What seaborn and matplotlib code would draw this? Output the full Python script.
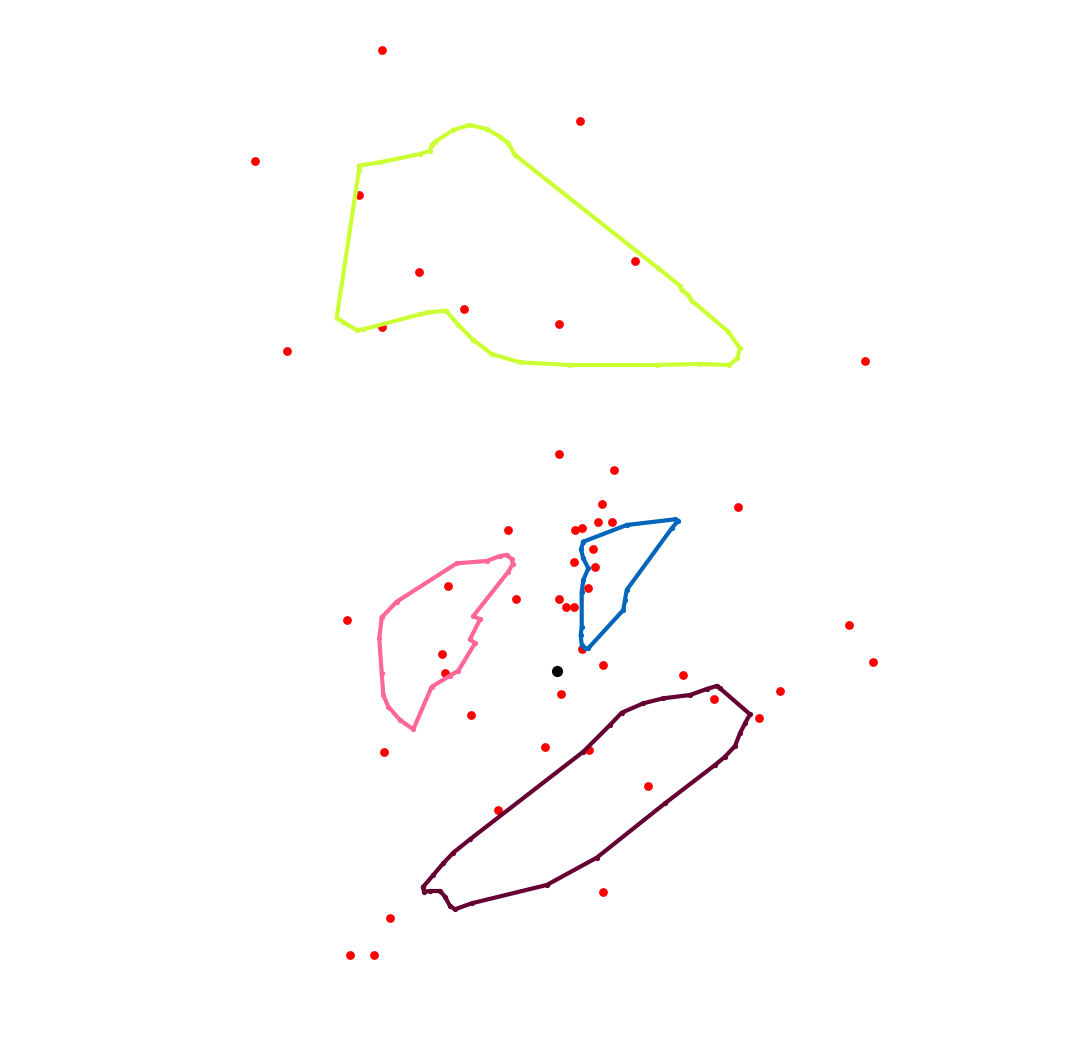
import matplotlib
matplotlib.use("Agg")
import matplotlib.pyplot as plt
import seaborn as sns
import pandas as pd

# Red points (image pixel coordinates)
red_x = [382, 580, 255, 359, 419, 635, 464, 559, 382, 287, 865, 559, 614, 602, 738,
         508, 575, 582, 598, 612, 593, 574, 595, 588, 448, 516, 559, 566, 574, 347,
         849, 873, 442, 445, 582, 603, 683, 561, 780, 714, 759, 471, 384, 545, 589,
         648, 498, 603, 390, 350, 374]
red_y = [50, 121, 161, 195, 272, 261, 309, 324, 327, 351, 361, 454, 470, 504, 507,
         530, 530, 528, 522, 522, 549, 562, 567, 588, 586, 599, 599, 607, 607, 620,
         625, 662, 654, 673, 649, 665, 675, 694, 691, 699, 718, 715, 752, 747, 750,
         786, 810, 892, 918, 955, 955]

# Black centre point
black_x = [556.7]
black_y = [670.5]

# Green polygon
green_x = [359, 380, 420, 430, 431.7, 435, 453.3, 469.3, 486.7, 500, 508.3, 515,
           658.3, 680, 681.7, 688.3, 691.7, 728.3, 740, 737.3, 729.3, 700, 656.7,
           570, 520, 491.7, 473.3, 458.3, 446, 428.3, 420, 363.3, 356.7, 343.3,
           336.7, 359, 359]
green_y = [165.7, 162.3, 154, 150.7, 145, 141.7, 130, 125, 129, 136.7, 143.3, 155,
           268.3, 285.7, 290, 295, 300.7, 331.7, 348.3, 358.3, 365, 364, 365,
           365, 362.3, 354, 340, 325, 310.7, 312.3, 314.3, 329.3, 330, 322.3,
           317.7, 170, 165.7]

# Pink polygon
pink_x = [381.7, 396.7, 456.7, 486.7, 500, 506.7, 511.7, 512.7, 508.3, 473.3, 480,
          470, 475, 458.3, 450, 431.7, 413.3, 400, 388.3, 383.3, 381.7, 379.3, 381.7]
pink_y = [617.3, 601.7, 563.3, 561, 556, 555, 559, 564, 571.7, 616, 619.3,
          639.3, 643.3, 670.7, 675.7, 686.7, 729.3, 720, 706.7, 695, 673.3, 638.3, 617.3]

# Blue polygon
blue_x = [583.3, 626.7, 675, 678.3, 671.7, 626.7, 625, 623.3, 588.3, 585, 581.7,
          580.7, 581.7, 581.7, 583.3, 588.3, 583.3, 581, 583.3]
blue_y = [541.7, 525, 519.3, 520.7, 528.3, 590, 600, 610, 648.3, 648.3, 645,
          635, 626.7, 591.7, 580, 568.3, 558.3, 549.3, 541.7]

# Maroon polygon
maroon_x = [423.3, 433.3, 443.3, 453.3, 470, 583.3, 610, 621.7, 643.3, 663.3, 690,
            706.7, 716.7, 720, 750, 745, 740, 735, 725, 715, 665, 596.7, 546.7,
            471.7, 455, 450, 445, 440, 430, 424, 423.3]
maroon_y = [886.7, 875, 863.3, 852.7, 839.3, 751.7, 725, 712.7, 703.3, 698.3, 695,
            689, 686, 688.3, 714.3, 723.3, 733.3, 746, 756.7, 765, 803.3, 857.7, 885,
            903.3, 909.3, 906, 896.7, 891, 891, 891.7, 886.7]

sns.set_theme(style="white")

fig = plt.figure(figsize=(10.67, 10.5), dpi=100)
ax = fig.add_axes([0, 0, 1, 1])

sns.scatterplot(x=red_x, y=red_y, color="#ff0000", s=40, linewidth=0, ax=ax, zorder=2)

polys = [
    (green_x, green_y, "#ccff33"),
    (pink_x, pink_y, "#ff6699"),
    (blue_x, blue_y, "#0066bb"),
    (maroon_x, maroon_y, "#660033"),
]
for px, py, col in polys:
    df = pd.DataFrame({"x": px, "y": py})
    sns.lineplot(data=df, x="x", y="y", sort=False, estimator=None, color=col,
                 linewidth=3.0, marker="o", markersize=3.8, markeredgewidth=0,
                 ax=ax, zorder=3)

sns.scatterplot(x=black_x, y=black_y, color="#000000", s=65, linewidth=0, ax=ax, zorder=4)

ax.set_xlim(0, 1067)
ax.set_ylim(1050, 0)
ax.set_axis_off()

fig.savefig("out.png", dpi=100, facecolor="white")
